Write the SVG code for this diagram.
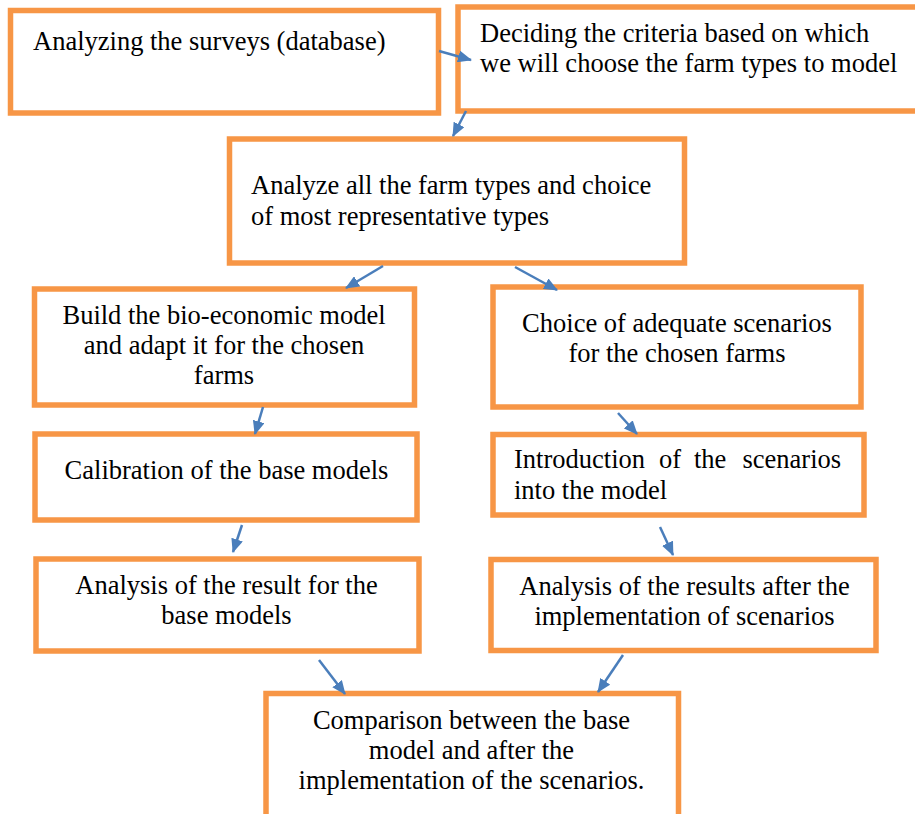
<svg xmlns="http://www.w3.org/2000/svg" width="915" height="814" viewBox="0 0 915 814">
<defs>
<style>
.box{fill:#ffffff;stroke:#F79646;stroke-width:5.5}
.t{font-family:"Liberation Serif","Times New Roman",serif;font-size:26.5px;fill:#000000}
.c{text-anchor:middle}
.arr{stroke:#4A7EBB;stroke-width:2.5;fill:none;marker-end:url(#ah)}
</style>
<marker id="ah" viewBox="0 0 14 12" refX="13" refY="6" markerWidth="14" markerHeight="12" markerUnits="userSpaceOnUse" orient="auto">
<path d="M0,0 L14,6 L0,12 Z" fill="#4A7EBB"/>
</marker>
</defs>
<rect width="915" height="814" fill="#ffffff"/>
<g id="n1">
<rect class="box" x="10.5" y="10.5" width="428" height="102.5"/>
<text class="t" x="33" y="50">Analyzing the surveys (database)</text>
</g>
<g id="n2">
<rect class="box" x="458" y="7" width="470" height="104"/>
<text class="t" x="480" y="42">Deciding the criteria based on which</text>
<text class="t" x="480" y="72">we will choose the farm types to model</text>
</g>
<g id="n3">
<rect class="box" x="229.5" y="139" width="455" height="124"/>
<text class="t" x="251" y="193.5">Analyze all the farm types and choice</text>
<text class="t" x="251" y="225">of most representative types</text>
</g>
<g id="n4">
<rect class="box" x="34.5" y="289" width="380" height="116"/>
<text class="t c" x="224" y="323.5">Build the bio-economic model</text>
<text class="t c" x="224" y="354">and adapt it for the chosen</text>
<text class="t c" x="224" y="384">farms</text>
</g>
<g id="n5">
<rect class="box" x="493" y="287" width="368" height="120"/>
<text class="t c" x="677" y="332">Choice of adequate scenarios</text>
<text class="t c" x="677" y="362">for the chosen farms</text>
</g>
<g id="n6">
<rect class="box" x="35" y="434" width="382" height="86"/>
<text class="t c" x="226.5" y="478.5">Calibration of the base models</text>
</g>
<g id="n7">
<rect class="box" x="493" y="434.5" width="371" height="80.5"/>
<text class="t" y="468"><tspan x="514">Introduction</tspan><tspan x="659">of</tspan><tspan x="694">the</tspan><tspan x="742.5">scenarios</tspan></text>
<text class="t" x="514" y="499">into the model</text>
</g>
<g id="n8">
<rect class="box" x="36" y="559" width="383" height="92"/>
<text class="t c" x="226.5" y="593.5">Analysis of the result for the</text>
<text class="t c" x="226.5" y="623.5">base models</text>
</g>
<g id="n9">
<rect class="box" x="491" y="559.5" width="385" height="91"/>
<text class="t c" x="684.5" y="595">Analysis of the results after the</text>
<text class="t c" x="684.5" y="625">implementation of scenarios</text>
</g>
<g id="n10">
<rect class="box" x="266" y="693.5" width="412.5" height="130"/>
<text class="t c" x="471.5" y="728.5">Comparison between the base</text>
<text class="t c" x="471.5" y="758.5">model and after the</text>
<text class="t c" x="471.5" y="788.5">implementation of the scenarios.</text>
</g>
<g id="connectors">
<line class="arr" x1="439" y1="51" x2="471" y2="60"/>
<line class="arr" x1="466" y1="111" x2="453" y2="136"/>
<line class="arr" x1="383" y1="266" x2="346" y2="288"/>
<line class="arr" x1="515" y1="267" x2="557" y2="290"/>
<line class="arr" x1="263" y1="407" x2="255" y2="434"/>
<line class="arr" x1="618" y1="413" x2="637" y2="434"/>
<line class="arr" x1="242" y1="525" x2="233" y2="552"/>
<line class="arr" x1="660" y1="527" x2="673" y2="555"/>
<line class="arr" x1="319" y1="660" x2="345" y2="694"/>
<line class="arr" x1="623" y1="655" x2="598" y2="692"/>
</g>
</svg>
